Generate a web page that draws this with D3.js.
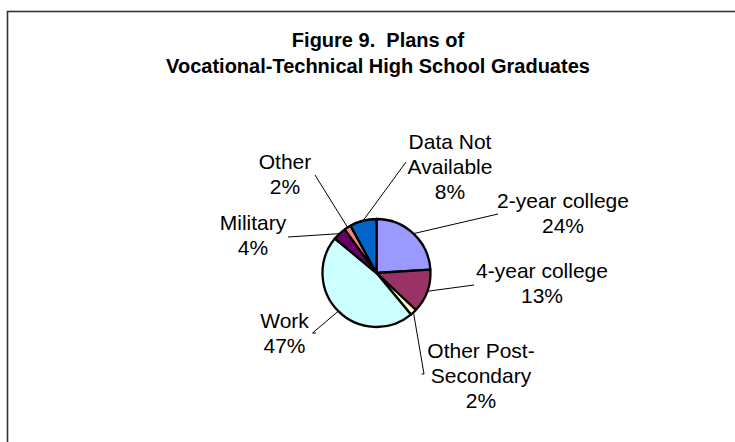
<!DOCTYPE html>
<html>
<head>
<meta charset="utf-8">
<script src="https://cdn.jsdelivr.net/npm/d3@7"></script>
<style>
  html, body { margin: 0; padding: 0; background: #fff; }
  svg { display: block; }
  text { font-family: "Liberation Sans", Arial, sans-serif; fill: #000; }
</style>
</head>
<body>
<svg id="chart" width="735" height="442"></svg>
<script>
// ---- data ----
const categories = ["2-year college", "4-year college", "Other Post-Secondary", "Work", "Military", "Other", "Data Not Available"];
const labelLines = [["2-year college"], ["4-year college"], ["Other Post-", "Secondary"], ["Work"], ["Military"], ["Other"], ["Data Not", "Available"]];
const values = [24, 13, 2, 47, 4, 2, 8];
const colors = ["#9999FF", "#993366", "#FFFFCC", "#CCFFFF", "#660066", "#FF8080", "#0066CC"];
const titleLines = ["Figure 9.\u00A0 Plans of", "Vocational-Technical High School Graduates"];

// ---- layout (label anchors relative to pie centre, leader start/bend points) ----
const W = 735, H = 442;
const cx = 376.5, cy = 273, R = 54;
const lineH = 25;
const labelLayout = [
  { x: 186.5, y: -65, pts: [[121.5, -59]] },                 // 2-year
  { x: 165.5, y: 5,   pts: [[97.5, 12]] },                   // 4-year
  { x: 104.5, y: 85,  pts: [[47.5, 101], [45.2, 101]] },     // other post-sec
  { x: -92,   y: 55,  pts: [[-64, 60], [-60.5, 60]] },       // work
  { x: -123.5,y: -43, pts: [[-88.5, -36]] },                 // military
  { x: -91.5, y: -104,pts: [[-61.5, -98]] },                 // other
  { x: 73.5,  y: -124,pts: [[29.5, -111]] }                  // data n/a
];

const svg = d3.select("#chart");

// frame (extends beyond right/bottom edges)
svg.append("rect")
  .attr("x", 7.5).attr("y", 11.5)
  .attr("width", W + 20).attr("height", H + 20)
  .attr("fill", "none").attr("stroke", "#333").attr("stroke-width", 1.6);

// title
svg.append("text")
  .attr("x", 378).attr("y", 47)
  .attr("text-anchor", "middle")
  .attr("font-size", 20).attr("font-weight", "bold")
  .selectAll("tspan").data(titleLines).join("tspan")
  .attr("x", 378).attr("dy", (d, i) => i === 0 ? 0 : 25.5)
  .text(d => d);

const pie = d3.pie().value(d => d).sort(null)(values);
const arc = d3.arc().innerRadius(0).outerRadius(R);

const g = svg.append("g").attr("transform", `translate(${cx},${cy})`);

g.selectAll("path.slice").data(pie).join("path")
  .attr("class", "slice")
  .attr("d", arc)
  .attr("fill", (d, i) => colors[i])
  .attr("stroke", "#000")
  .attr("stroke-width", 2.3)
  .attr("stroke-linejoin", "round");

// leader lines
const line = d3.line();
g.selectAll("path.leader").data(pie).join("path")
  .attr("class", "leader")
  .attr("fill", "none").attr("stroke", "#000").attr("stroke-width", 1)
  .attr("d", (d, i) => {
    const a = (d.startAngle + d.endAngle) / 2;
    const edge = [Math.sin(a) * R, -Math.cos(a) * R];
    return line([edge, ...labelLayout[i].pts]);
  });

// labels
const lbl = g.selectAll("text.lbl").data(pie).join("text")
  .attr("class", "lbl")
  .attr("text-anchor", "middle")
  .attr("font-size", 21);
lbl.each(function(d, i) {
  const L = labelLayout[i];
  const lines = labelLines[i].concat([d3.format(".0f")(d.data) + "%"]);
  d3.select(this).selectAll("tspan").data(lines).join("tspan")
    .attr("x", L.x)
    .attr("y", (t, j) => L.y + j * lineH)
    .text(t => t);
});
</script>
</body>
</html>
